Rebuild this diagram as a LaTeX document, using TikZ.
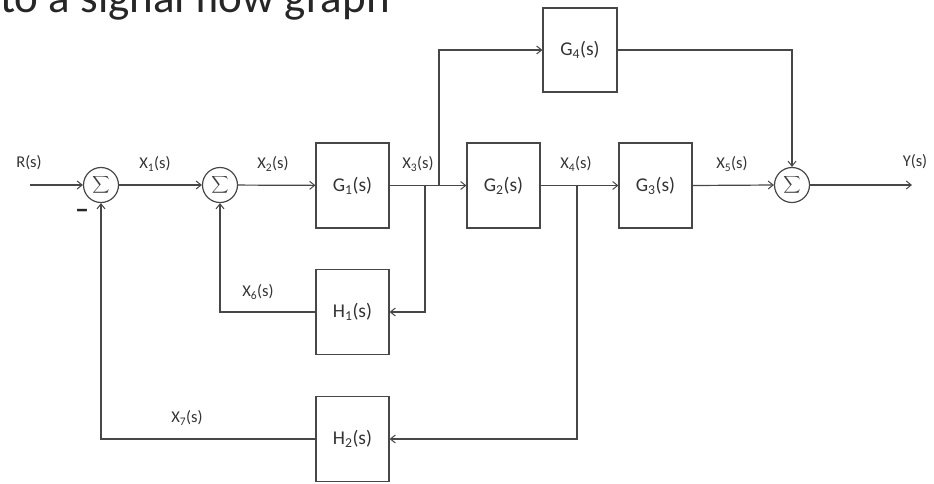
\documentclass[tikz,border=0pt]{standalone}
\usepackage{exscale}
\usepackage{fontspec}
\setmainfont{Carlito}
\usetikzlibrary{arrows.meta}
\begin{document}
\begin{tikzpicture}[x=1pt,y=-1pt,
  wire/.style={draw=black!72, line width=1.2pt},
  arr/.style={wire,-{Straight Barb[length=5pt,width=8pt,line width=1pt]}},
  blk/.style={draw=black!72, line width=1.2pt, minimum width=73pt, minimum height=85pt, inner sep=0pt, font=\fontsize{19.5}{21}\selectfont, text=black!80},
  sumj/.style={circle, draw=black!72, line width=1.2pt, minimum size=35pt, inner sep=0pt, font=\fontsize{12.5}{14}\selectfont, text=black!75},
  lbl/.style={font=\fontsize{16.5}{18}\selectfont, text=black!80, inner sep=0pt}]
\path[use as bounding box] (0,0) rectangle (934,483);
\begin{scope}
  \clip (0,0) rectangle (934,483);
  \node[anchor=base west, inner sep=0pt, font=\fontsize{45}{45}\selectfont, text=black!85] (title) at (0,12) {to a signal flow graph};
\end{scope}

% summing junctions
\node[sumj] (s1) at (101,185) {$\displaystyle\sum$};
\node[sumj] (s2) at (220,185) {$\displaystyle\sum$};
\node[sumj] (s3) at (792,185) {$\displaystyle\sum$};

% blocks
\node[blk] (g1) at (352.5,185.5) {G\textsubscript{1}(s)};
\node[blk] (g2) at (503.5,185.5) {G\textsubscript{2}(s)};
\node[blk] (g3) at (655.5,185.5) {G\textsubscript{3}(s)};
\node[blk, minimum width=74pt, minimum height=84pt] (g4) at (580,50) {G\textsubscript{4}(s)};
\node[blk] (h1) at (352.5,312) {H\textsubscript{1}(s)};
\node[blk] (h2) at (352.5,439) {H\textsubscript{2}(s)};

% free ends and branch points
\coordinate (rin) at (30,185);
\coordinate (yout) at (912,185);
\coordinate (bh1) at (425,185);
\coordinate (bg4) at (439,185);
\coordinate (bh2) at (577,185);

% signal labels
\node[lbl] (lr) at (29,163) {R(s)};
\node[lbl] (lx1) at (155,164) {X\textsubscript{1}(s)};
\node[lbl] (lx2) at (273,164) {X\textsubscript{2}(s)};
\node[lbl] (lx3) at (418,164) {X\textsubscript{3}(s)};
\node[lbl] (lx4) at (576,164) {X\textsubscript{4}(s)};
\node[lbl] (lx5) at (732,164) {X\textsubscript{5}(s)};
\node[lbl] (ly) at (915,162) {Y(s)};
\node[lbl] (lx6) at (258,292) {X\textsubscript{6}(s)};
\node[lbl] (lx7) at (187,418) {X\textsubscript{7}(s)};
\node[font=\fontsize{28}{28}\selectfont\bfseries, text=black!85, inner sep=0pt] (minus) at (82,214) {–};

% connectors
\draw[arr] (rin) -- (s1);
\draw[arr] (s1) -- (s2);
\draw[arr] (s2) -- (g1);
\draw[arr] (g1.east) -- (g2.west);
\draw[arr] (bg4) |- (g4.west);
\draw[arr] (bh1) |- (h1.east);
\draw[arr] (h1.west) -| (s2.south);
\draw[arr] (g2.east) -- (g3.west);
\draw[arr] (bh2) |- (h2.east);
\draw[arr] (h2.west) -| (s1.south);
\draw[arr] (g3.east) -- (s3.west);
\draw[arr] (g4.east) -| (s3.north);
\draw[arr] (s3.east) -- (yout);
\end{tikzpicture}
\end{document}
